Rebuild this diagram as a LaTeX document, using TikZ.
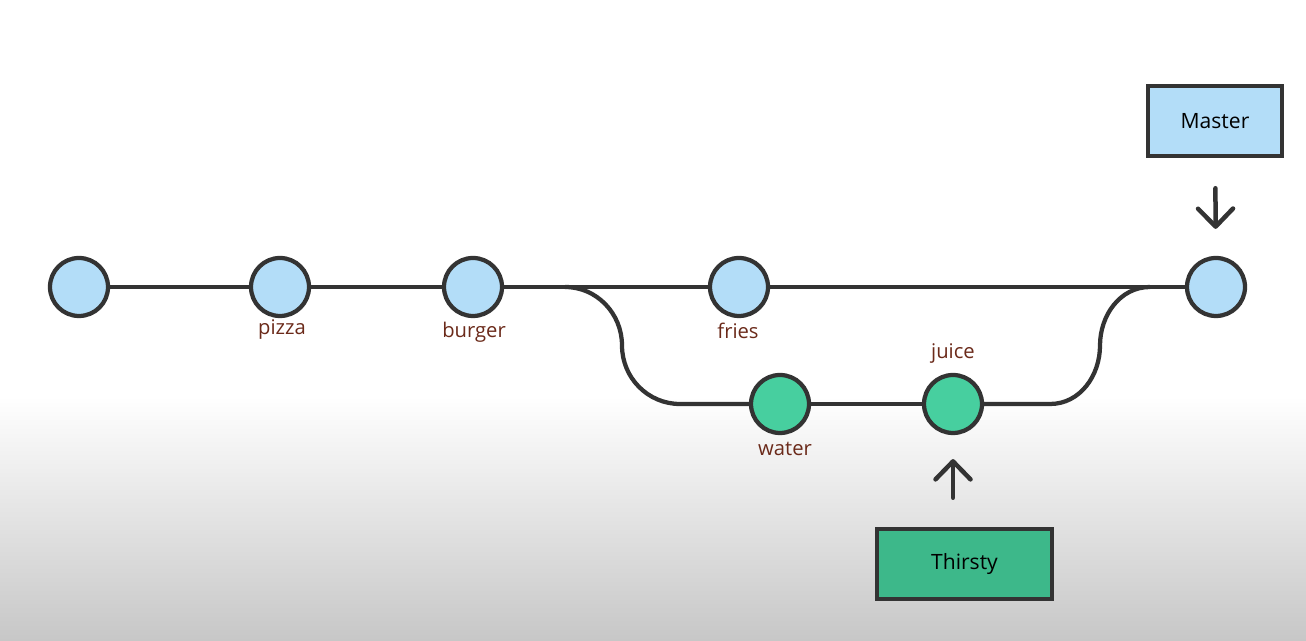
\documentclass[tikz,border=0pt]{standalone}
\usepackage{fontspec}
\setsansfont{Open Sans}
\usetikzlibrary{positioning}
\usetikzlibrary{arrows.meta}
\definecolor{linegray}{HTML}{333333}
\definecolor{mainblue}{HTML}{B3DDF8}
\definecolor{branchgreen}{HTML}{47CF9F}
\definecolor{boxgreen}{HTML}{3DB88A}
\definecolor{tagbrown}{HTML}{6B2A1A}
\tikzset{commit/.style = {circle, draw = linegray, line width = 0.085cm, fill = mainblue,
                          minimum size = 1.16cm, inner sep = 0}}
\tikzset{gcommit/.style = {commit, fill = branchgreen}}
\tikzset{tag/.style = {text = tagbrown, font = \sffamily\fontsize{11.5}{13}\selectfont}}
\tikzset{ref/.style = {draw = linegray, line width = 0.09cm, minimum height = 1.4cm,
                       font = \sffamily\fontsize{12}{14}\selectfont}}
\tikzset{history/.style = {draw = linegray, line width = 0.085cm}}
\tikzset{pointer/.style = {draw = linegray, line width = 0.09cm, line cap = round,
                           -{Straight Barb[length = 0.36cm, width = 0.7cm, round]}}}

\begin{document}
\begin{tikzpicture}
      \useasboundingbox (0, 0) rectangle (26.12, 12.82);
      \fill [white] (0, 0) rectangle (26.12, 12.82);
      \shade [top color = white, bottom color = black!22] (0, 0) rectangle (26.12, 4.9);

      \node [commit] (root) at (1.58, 7.08) {};
      \node [commit] (pizza) at (5.6, 7.08) {};
      \node [commit] (burger) at (9.46, 7.08) {};
      \node [commit] (fries) at (14.78, 7.08) {};
      \node [commit] (merge) at (24.32, 7.08) {};
      \node [gcommit] (water) at (15.6, 4.74) {};
      \node [gcommit] (juice) at (19.06, 4.74) {};

      \node [tag] at (5.64, 6.22) {pizza};
      \node [tag] at (9.48, 6.18) {burger};
      \node [tag] at (14.76, 6.2) {fries};
      \node [tag] at (15.7, 3.84) {water};
      \node [tag] at (19.06, 5.74) {juice};

      \coordinate (fork) at (11.3, 7.08);
      \coordinate (forkmid) at (12.44, 5.91);
      \coordinate (forkend) at (13.6, 4.74);
      \coordinate (joinstart) at (21.0, 4.74);
      \coordinate (joinmid) at (22.0, 5.91);
      \coordinate (join) at (23.0, 7.08);

      \draw [history] (root) -- (pizza) -- (burger) -- (fries) -- (merge);
      \draw [history] (fork) to [out = 0, in = 90] (forkmid)
                             to [out = -90, in = 180] (forkend) -- (water);
      \draw [history] (water) -- (juice);
      \draw [history] (juice) -- (joinstart) to [out = 0, in = -90] (joinmid)
                             to [out = 90, in = 180] (join);

      \node [ref, fill = mainblue, minimum width = 2.68cm] (master) at (24.3, 10.4) {Master};
      \node [ref, fill = boxgreen, minimum width = 3.5cm] (thirsty) at (19.29, 1.54) {Thirsty};

      \draw [pointer, shorten < = 0.6cm, shorten > = 0.54cm] (master) -- (merge);
      \draw [pointer, shorten < = 0.58cm, shorten > = 0.48cm] (thirsty.north -| juice) -- (juice);

    \end{tikzpicture}
\end{document}
